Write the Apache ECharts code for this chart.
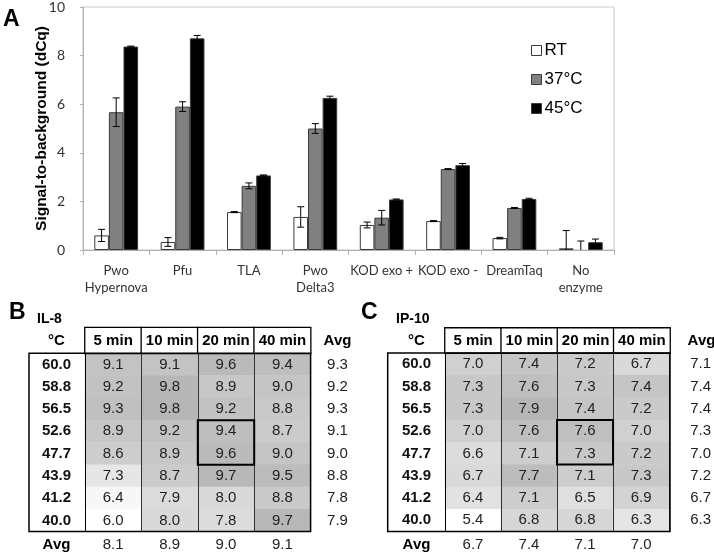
<!DOCTYPE html>
<html><head><meta charset="utf-8">
<script src="https://cdn.jsdelivr.net/npm/echarts@6/dist/echarts.min.js"></script>
<style>html,body{margin:0;padding:0;background:#fff}#c{width:714px;height:554px}</style>
</head><body><div id="c"></div>
<script>
// ---------- Panel A data ----------
const enzymes = ['Pwo\nHypernova','Pfu','TLA','Pwo\nDelta3','KOD exo +','KOD exo -','DreamTaq','No\nenzyme'];
const seriesNames = ['RT','37°C','45°C'];
const rtValues  = [0.60, 0.33, 1.56, 1.36, 1.03, 1.19, 0.49, 0.07];
const rtErr     = [0.25, 0.18, 0.02, 0.42, 0.12, 0.02, 0.03, 0.73];
const t37Values = [5.67, 5.90, 2.64, 5.00, 1.33, 3.33, 1.73, -0.05];
const t37Err    = [0.59, 0.20, 0.12, 0.20, 0.30, 0.02, 0.02, 0.42];
const t45Values = [8.37, 8.71, 3.07, 6.26, 2.08, 3.49, 2.10, 0.32];
const t45Err    = [0.02, 0.12, 0.02, 0.07, 0.02, 0.07, 0.03, 0.13];
const yTicks = [0, 2, 4, 6, 8, 10];

// ---------- Panels B / C data ----------
const timeCols = ['5 min','10 min','20 min','40 min'];
const tempRows = ['60.0','58.8','56.5','52.6','47.7','43.9','41.2','40.0'];
const il8Values = [
  [9.1, 9.1, 9.6, 9.4],
  [9.2, 9.8, 8.9, 9.0],
  [9.3, 9.8, 9.2, 8.8],
  [8.9, 9.2, 9.4, 8.7],
  [8.6, 8.9, 9.6, 9.0],
  [7.3, 8.7, 9.7, 9.5],
  [6.4, 7.9, 8.0, 8.8],
  [6.0, 8.0, 7.8, 9.7]
];
const il8RowAvg = [9.3, 9.2, 9.3, 9.1, 9.0, 8.8, 7.8, 7.9];
const il8ColAvg = [8.1, 8.9, 9.0, 9.1];
const ip10Values = [
  [7.0, 7.4, 7.2, 6.7],
  [7.3, 7.6, 7.3, 7.4],
  [7.3, 7.9, 7.4, 7.2],
  [7.0, 7.6, 7.6, 7.0],
  [6.6, 7.1, 7.3, 7.2],
  [6.7, 7.7, 7.1, 7.3],
  [6.4, 7.1, 6.5, 6.9],
  [5.4, 6.8, 6.8, 6.3]
];
const ip10RowAvg = [7.1, 7.4, 7.4, 7.3, 7.0, 7.2, 6.7, 6.3];
const ip10ColAvg = [6.7, 7.4, 7.1, 7.0];
const highlightCol = '20 min';
const highlightRows = ['52.6','47.7'];

// ---------- build ----------
const chart = echarts.init(document.getElementById('c'), null, {renderer:'canvas'});
const AR = '"Liberation Sans", Arial, sans-serif';
const CAL = 'Lato, "Liberation Sans", sans-serif';
const CAT_GAP = 0.34;

const grid = [], xAxis = [], yAxis = [], series = [], visualMap = [], graphic = [];

// Panel A
grid.push({left:83, right:100, top:7, bottom:304, show:true, borderColor:'#c8c8c8', borderWidth:1, backgroundColor:'transparent'});
xAxis.push({type:'category', gridIndex:0, data:enzymes,
  axisLine:{lineStyle:{color:'#b0b0b0'}},
  axisTick:{show:true, length:5, interval:0, lineStyle:{color:'#b0b0b0'}},
  axisLabel:{interval:0, fontFamily:CAL, fontSize:13, color:'#333', lineHeight:17, margin:12}});
yAxis.push({type:'value', gridIndex:0, min:yTicks[0], max:yTicks[yTicks.length-1], interval:yTicks[1]-yTicks[0],
  name:'Signal-to-background (dCq)', nameLocation:'middle', nameGap:33, nameMoveOverlap:false,
  nameTextStyle:{fontFamily:AR, fontSize:15.5, fontWeight:'bold', color:'#000'},
  axisLine:{show:true, lineStyle:{color:'#b0b0b0'}},
  axisTick:{show:true, length:3, lineStyle:{color:'#b0b0b0'}},
  splitLine:{show:false},
  axisLabel:{fontFamily:CAL, fontSize:14, color:'#333', margin:18}});

const barVals = [rtValues, t37Values, t45Values];
const barErrs = [rtErr, t37Err, t45Err];
const barColors = ['#ffffff', '#808080', '#000000'];
barVals.forEach((vals, k) => {
  series.push({type:'bar', name:seriesNames[k], xAxisIndex:0, yAxisIndex:0, data:vals,
    barGap:'0%', barCategoryGap:(CAT_GAP*100)+'%',
    itemStyle:{color:barColors[k], borderColor:'#3a3a3a', borderWidth:1}, z:2});
});
barVals.forEach((vals, k) => {
  series.push({type:'custom', xAxisIndex:0, yAxisIndex:0, z:5, silent:true,
    data: vals.map((v, i) => [i, v, barErrs[k][i]]),
    renderItem: (params, api) => {
      const i = api.value(0), v = api.value(1), e = api.value(2);
      const band = api.size([1, 0])[0];
      const bw = band * (1 - CAT_GAP) / 3;
      const cx = api.coord([i, 0])[0] + (k - 1) * bw;
      const lo = Math.max(v - e, yTicks[0]), hi = v + e;
      const yH = api.coord([i, hi])[1], yL = api.coord([i, lo])[1];
      const c = 3.5;
      const st = {stroke:'#000', lineWidth:1};
      const kids = [{type:'line', shape:{x1:cx, y1:yH, x2:cx, y2:yL}, style:st},
                    {type:'line', shape:{x1:cx-c, y1:yH, x2:cx+c, y2:yH}, style:st}];
      if (v - e > yTicks[0]) kids.push({type:'line', shape:{x1:cx-c, y1:yL, x2:cx+c, y2:yL}, style:st});
      return {type:'group', children:kids};
    }});
});

// Tables
function buildTable(cfg) {
  const gBody = grid.length;
  grid.push({left:cfg.dataLeft, top:cfg.bodyTop, width:cfg.colW*4, height:cfg.bodyH});
  const gHead = grid.length;
  grid.push({left:cfg.dataLeft, top:cfg.headTop, width:cfg.colW*4, height:cfg.bodyTop-cfg.headTop});
  const xb = xAxis.length;
  xAxis.push({type:'category', gridIndex:gBody, data:timeCols, position:'bottom', z:6,
    axisLine:{show:false}, axisTick:{show:false},
    splitLine:{show:true, lineStyle:{color:'#333', width:1}},
    axisLabel:{interval:0, margin:13.5, verticalAlign:'middle', fontFamily:AR, fontSize:15, color:'#222',
      formatter:(v, i) => cfg.colAvg[i].toFixed(1)}});
  const xh = xAxis.length;
  xAxis.push({type:'category', gridIndex:gHead, data:timeCols, show:false});
  const yl = yAxis.length;
  yAxis.push({type:'category', gridIndex:gBody, data:tempRows, inverse:true, position:'left', z:6,
    axisLine:{show:true, lineStyle:{color:'#000', width:1}}, axisTick:{show:false},
    axisLabel:{interval:0, align:'center', margin:cfg.dataLeft-cfg.rowLabelX, fontFamily:AR, fontSize:15, fontWeight:'bold', color:'#111'}});
  const yr = yAxis.length;
  yAxis.push({type:'category', gridIndex:gBody, data:tempRows, inverse:true, position:'right', z:6,
    axisLine:{show:false}, axisTick:{show:false},
    axisLabel:{interval:0, align:'center', margin:cfg.avgX-(cfg.dataLeft+cfg.colW*4), fontFamily:AR, fontSize:15, color:'#222',
      formatter:(v, i) => cfg.rowAvg[i].toFixed(1)}});
  const yh = yAxis.length;
  yAxis.push({type:'category', gridIndex:gHead, data:['h'], show:false});

  const flat = [];
  cfg.values.forEach((row, r) => row.forEach((v, c) => flat.push([c, r, v])));
  const sBody = series.length;
  series.push({type:'heatmap', xAxisIndex:xb, yAxisIndex:yl, data:flat, z:2,
    label:{show:true, fontFamily:AR, fontSize:15, color:'#222', formatter:p => p.value[2].toFixed(1)},
    itemStyle:{borderWidth:0}, emphasis:{disabled:true}});
  const allV = flat.map(d => d[2]);
  visualMap.push({type:'continuous', show:false, seriesIndex:sBody, dimension:2,
    min:Math.min(...allV), max:Math.max(...allV), inRange:{color:['#ffffff', '#b6b6b6']}});
  const sHead = series.length;
  series.push({type:'heatmap', xAxisIndex:xh, yAxisIndex:yh, data:timeCols.map((t, i) => [i, 0, 0]), z:2,
    label:{show:true, fontFamily:AR, fontSize:15, fontWeight:'bold', color:'#000', formatter:p => timeCols[p.value[0]]},
    itemStyle:{color:'#fff', borderColor:'#000', borderWidth:1.3}, emphasis:{disabled:true}});
  visualMap.push({type:'continuous', show:false, seriesIndex:sHead, dimension:2, min:0, max:1,
    inRange:{color:['#ffffff', '#ffffff']}});
  // highlighted block
  const hc = timeCols.indexOf(highlightCol);
  const hr = highlightRows.map(r => tempRows.indexOf(r));
  series.push({type:'custom', xAxisIndex:xb, yAxisIndex:yl, z:8, silent:true,
    data:[[hc, Math.min(...hr), Math.max(...hr)]],
    renderItem:(params, api) => {
      const sz = api.size([1, 1]);
      const p1 = api.coord([api.value(0), api.value(1)]);
      const p2 = api.coord([api.value(0), api.value(2)]);
      const x = p1[0] - sz[0]/2, y = Math.min(p1[1], p2[1]) - sz[1]/2;
      const h = Math.abs(p2[1] - p1[1]) + sz[1];
      return {type:'rect', shape:{x:x, y:y, width:sz[0], height:h},
        style:{fill:'none', stroke:'#000', lineWidth:2}};
    }});
  // outer frame + texts
  graphic.push({type:'rect', z:100, silent:true,
    shape:{x:cfg.frameLeft, y:cfg.bodyTop, width:cfg.dataLeft + cfg.colW*4 - cfg.frameLeft, height:cfg.bodyH},
    style:{fill:'none', stroke:'#000', lineWidth:1.5}});
  const txt = (t, x, y, size, weight, align) => graphic.push({type:'text', z:100, silent:true, x:x, y:y,
    style:{text:t, font:(weight||'bold') + ' ' + size + 'px ' + AR, fill:'#000', align:align||'center', verticalAlign:'middle'}});
  txt(cfg.letter, cfg.letterX, 313, 23, 'bold', 'left');
  txt(cfg.name, cfg.nameX, 319, 14, 'bold', 'left');
  txt('°C', cfg.rowLabelX, (cfg.headTop + cfg.bodyTop)/2, 15, 'bold');
  txt('Avg', cfg.avgX, (cfg.headTop + cfg.bodyTop)/2, 15, 'bold');
  txt('Avg', cfg.rowLabelX, cfg.bodyTop + cfg.bodyH + 13.5, 15, 'bold');
}

buildTable({letter:'B', letterX:9, name:'IL-8', nameX:37, frameLeft:29, dataLeft:85, colW:56.4,
  headTop:327.7, bodyTop:353.3, bodyH:178.2, rowLabelX:56.5, avgX:337.5,
  values:il8Values, rowAvg:il8RowAvg, colAvg:il8ColAvg});
buildTable({letter:'C', letterX:361, name:'IP-10', nameX:396, frameLeft:387.7, dataLeft:445, colW:56.25,
  headTop:328, bodyTop:353, bodyH:178.5, rowLabelX:416.5, avgX:701.5,
  values:ip10Values, rowAvg:ip10RowAvg, colAvg:ip10ColAvg});

graphic.push({type:'text', z:100, silent:true, x:3, y:20,
  style:{text:'A', font:'bold 23px ' + AR, fill:'#000', align:'left', verticalAlign:'middle'}});

chart.setOption({
  animation:false,
  backgroundColor:'#ffffff',
  textStyle:{fontFamily:AR},
  legend:{show:true, orient:'vertical', left:526, top:37, itemWidth:10, itemHeight:10, itemGap:12,
    data:seriesNames.map(n => ({name:n, icon:'rect'})),
    itemStyle:{borderColor:'#3a3a3a', borderWidth:1},
    textStyle:{fontFamily:AR, fontSize:17, color:'#000', padding:[0,0,0,-2]}},
  grid, xAxis, yAxis, series, visualMap, graphic
});
</script></body></html>
